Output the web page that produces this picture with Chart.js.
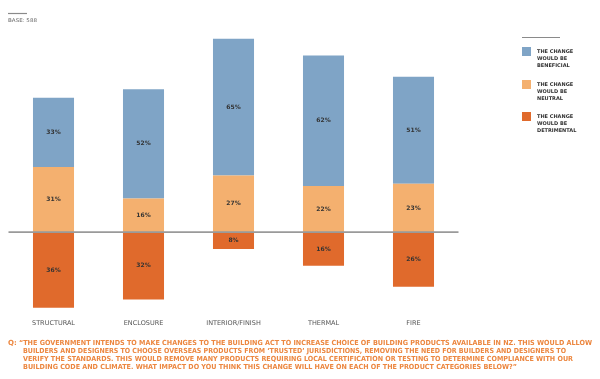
<!DOCTYPE html>
<html>
<head>
<meta charset="utf-8">
<script src="https://cdn.jsdelivr.net/npm/chart.js@4"></script>
<style>
  html, body { margin: 0; padding: 0; background: #fff; }
  #wrap { width: 600px; height: 379px; position: relative; }
</style>
</head>
<body>
<div id="wrap"><canvas id="impactChart" width="600" height="379"></canvas></div>
<script>
const categories = ["STRUCTURAL", "ENCLOSURE", "INTERIOR/FINISH", "THERMAL", "FIRE"];
const beneficial = [33, 52, 65, 62, 51];
const neutral = [31, 16, 27, 22, 23];
const detrimental = [-36, -32, -8, -16, -26];
const legendLabels = [
  ["THE CHANGE", "WOULD BE", "BENEFICIAL"],
  ["THE CHANGE", "WOULD BE", "NEUTRAL"],
  ["THE CHANGE", "WOULD BE", "DETRIMENTAL"],
];
const baseText = "BASE: 588";
const questionLines = [
  "\u201CTHE GOVERNMENT INTENDS TO MAKE CHANGES TO THE BUILDING ACT TO INCREASE CHOICE OF BUILDING PRODUCTS AVAILABLE IN NZ. THIS WOULD ALLOW",
  "BUILDERS AND DESIGNERS TO CHOOSE OVERSEAS PRODUCTS FROM \u2018TRUSTED\u2019 JURISDICTIONS, REMOVING THE NEED FOR BUILDERS AND DESIGNERS TO",
  "VERIFY THE STANDARDS. THIS WOULD REMOVE MANY PRODUCTS REQUIRING LOCAL CERTIFICATION OR TESTING TO DETERMINE COMPLIANCE WITH OUR",
  "BUILDING CODE AND CLIMATE. WHAT IMPACT DO YOU THINK THIS CHANGE WILL HAVE ON EACH OF THE PRODUCT CATEGORIES BELOW?\u201D",
];

const blue = "#7fa4c6";
const lightOrange = "#f4b06f";
const darkOrange = "#e06a2c";
const qOrange = "#ec8740";

// draw text squeezed/stretched to a given width
function fitText(ctx, text, x, y, width) {
  const w = ctx.measureText(text).width;
  ctx.save();
  ctx.translate(x, y);
  ctx.scale(width / w, 1);
  ctx.fillText(text, 0, 0);
  ctx.restore();
}

const valueLabels = {
  id: "valueLabels",
  afterDatasetsDraw(chart) {
    const ctx = chart.ctx;
    ctx.save();
    ctx.font = "bold 6px 'DejaVu Sans'";
    ctx.fillStyle = "#333";
    ctx.textAlign = "center";
    ctx.textBaseline = "middle";
    chart.data.datasets.forEach((ds, i) => {
      const meta = chart.getDatasetMeta(i);
      meta.data.forEach((bar, j) => {
        const p = bar.getProps(["x", "y", "base"], true);
        ctx.fillText(Math.abs(ds.data[j]) + "%", p.x, (p.y + p.base) / 2);
      });
    });
    ctx.restore();
  },
};

const zeroLine = {
  id: "zeroLine",
  afterDatasetsDraw(chart) {
    const ctx = chart.ctx;
    const y = chart.scales.y.getPixelForValue(0);
    ctx.save();
    ctx.strokeStyle = "#9a9a9a";
    ctx.lineWidth = 1.6;
    ctx.beginPath();
    ctx.moveTo(chart.chartArea.left, y);
    ctx.lineTo(chart.chartArea.right, y);
    ctx.stroke();
    ctx.restore();
  },
};

const decorations = {
  id: "decorations",
  afterDraw(chart) {
    const ctx = chart.ctx;
    ctx.save();
    // base note
    ctx.strokeStyle = "#8a8a8a";
    ctx.lineWidth = 1.2;
    ctx.beginPath();
    ctx.moveTo(8, 13.5);
    ctx.lineTo(27, 13.5);
    ctx.stroke();
    ctx.fillStyle = "#666";
    ctx.font = "5px 'DejaVu Sans'";
    ctx.textBaseline = "middle";
    fitText(ctx, baseText, 8, 21, 29);

    // legend
    ctx.strokeStyle = "#8a8a8a";
    ctx.beginPath();
    ctx.moveTo(522, 37.5);
    ctx.lineTo(560, 37.5);
    ctx.stroke();
    const colors = [blue, lightOrange, darkOrange];
    const tops = [47, 80, 112];
    ctx.font = "bold 5px 'DejaVu Sans'";
    ctx.fillStyle = "#333";
    legendLabels.forEach((lines, i) => {
      ctx.fillStyle = colors[i];
      ctx.fillRect(522, tops[i], 9, 9);
      ctx.fillStyle = "#333";
      lines.forEach((t, k) => {
        ctx.fillText(t, 537, tops[i] + 5 + k * 7);
      });
    });

    // question
    ctx.fillStyle = qOrange;
    ctx.font = "bold 7px 'DejaVu Sans'";
    ctx.textBaseline = "middle";
    ctx.fillText("Q:", 8, 343);
    const starts = [19, 23, 23, 23];
    const ends = [592, 566, 573, 517];
    questionLines.forEach((line, i) => {
      fitText(ctx, line, starts[i], 343 + i * 8, ends[i] - starts[i]);
    });
    ctx.restore();
  },
};

new Chart(document.getElementById("impactChart"), {
  type: "bar",
  data: {
    labels: categories,
    datasets: [
      { label: "The change would be neutral", data: neutral, backgroundColor: lightOrange },
      { label: "The change would be beneficial", data: beneficial, backgroundColor: blue },
      { label: "The change would be detrimental", data: detrimental, backgroundColor: darkOrange },
    ],
  },
  options: {
    responsive: false,
    animation: false,
    devicePixelRatio: 1,
    layout: { padding: { top: 22, left: 8.5, right: 141.5, bottom: 49 } },
    datasets: {
      bar: {
        barPercentage: 0.456,
        categoryPercentage: 1,
        borderWidth: 0,
      },
    },
    plugins: {
      legend: { display: false },
      tooltip: { enabled: false },
    },
    scales: {
      x: {
        stacked: true,
        grid: { display: false, drawTicks: false },
        border: { display: false },
        ticks: {
          color: "#555",
          font: { family: "'DejaVu Sans'", size: 6.5 },
          padding: 3,
          maxRotation: 0,
        },
      },
      y: {
        stacked: true,
        display: false,
        min: -40,
        max: 100,
      },
    },
  },
  plugins: [valueLabels, zeroLine, decorations],
});
</script>
</body>
</html>
